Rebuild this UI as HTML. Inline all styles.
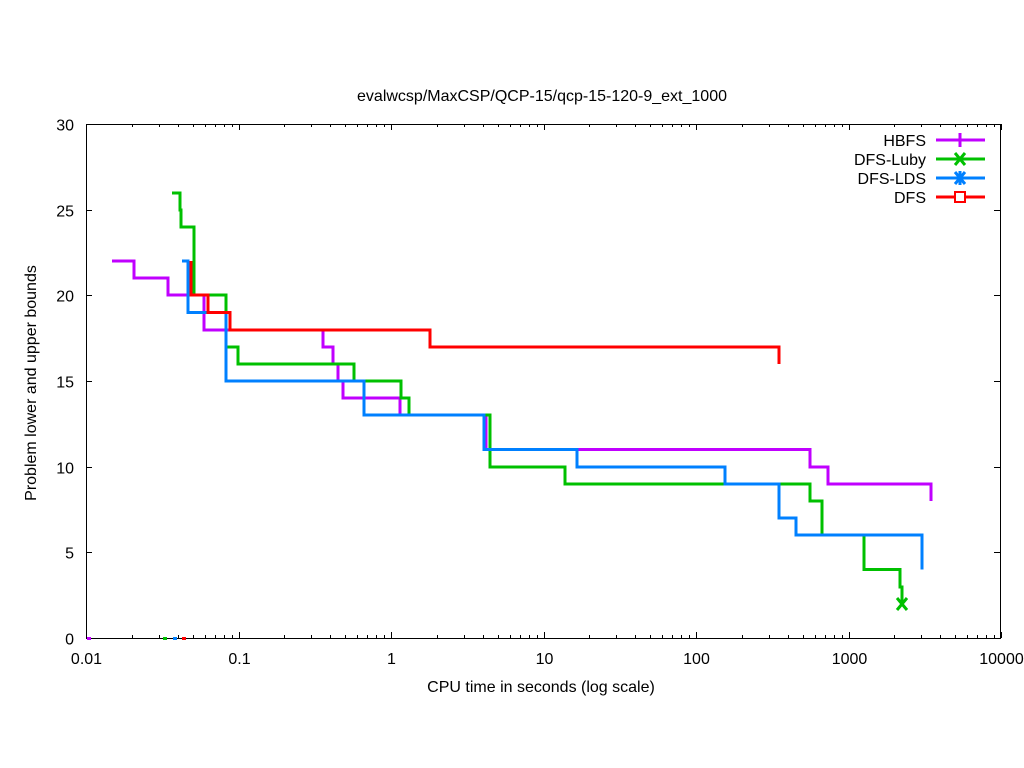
<!DOCTYPE html>
<html><head><meta charset="utf-8"><style>
html,body{margin:0;padding:0;background:#fff;}
svg{display:block;font-family:"Liberation Sans",sans-serif;}
</style></head><body>
<svg width="1024" height="768" xmlns="http://www.w3.org/2000/svg" id="s">
<rect width="1024" height="768" fill="#fff"/>
<text x="542" y="101" font-size="16" text-anchor="middle">evalwcsp/MaxCSP/QCP-15/qcp-15-120-9_ext_1000</text>
<g id="ax" stroke="#000" stroke-width="1" fill="none"></g>
<g id="lab" font-size="16" fill="#000"></g>
<text x="541" y="692" font-size="16" text-anchor="middle">CPU time in seconds (log scale)</text>
<text transform="translate(36,383) rotate(-90)" font-size="16" text-anchor="middle">Problem lower and upper bounds</text>
<g fill="none" stroke-width="3" stroke-linejoin="miter">
<polyline stroke="#c000ff" points="112,261 134,261 134,278 168,278 168,295 204,295 204,330 323,330 323,347 333,347 333,364 338,364 338,381 343,381 343,398 400,398 400,415 486,415 486,449.5 810,449.5 810,467 828,467 828,484 931,484 931,501"/>
<polyline stroke="#00c000" points="172,193 180,193 180,210 181,210 181,227 194,227 194,295 226,295 226,347 238,347 238,364 354,364 354,381 401,381 401,398 409,398 409,415 490,415 490,467 565,467 565,484 810,484 810,501 822,501 822,535 864,535 864,569.5 900,569.5 900,587 902,587 902,604"/>
<polyline stroke="#0080ff" points="182,261 188,261 188,312.5 226,312.5 226,381 364,381 364,415 484,415 484,449.5 577,449.5 577,467 725,467 725,484 779,484 779,518 796,518 796,535 922,535 922,569.5"/>
<polyline stroke="#ff0000" points="191,261 191,295 208,295 208,312.5 230,312.5 230,330 430,330 430,347 779,347 779,364"/>
</g>
<path d="M897,598 l10,12 M907,598 l-10,12" stroke="#00c000" stroke-width="3"/>
<rect x="87" y="637" width="4" height="3" fill="#c000ff"/>
<rect x="163" y="637" width="4" height="3" fill="#00c000"/>
<rect x="173" y="637" width="4" height="3" fill="#0080ff"/>
<rect x="182" y="637" width="4" height="3" fill="#ff0000"/>
<g font-size="16" text-anchor="end">
<text x="926" y="146">HBFS</text>
<text x="926" y="165">DFS-Luby</text>
<text x="926" y="184">DFS-LDS</text>
<text x="926" y="203">DFS</text>
</g>
<g stroke-width="3" fill="none">
<path d="M936,140h49M960,133v14" stroke="#c000ff"/>
<path d="M936,159h49M955,153l10,12M965,153l-10,12" stroke="#00c000"/>
<path d="M936,178h49M955,172l10,12M965,172l-10,12M960,171v14" stroke="#0080ff"/>
<path d="M936,197h49" stroke="#ff0000"/>
<rect x="955" y="192" width="10" height="10" fill="#fff" stroke="#ff0000" stroke-width="2"/>
</g>
</svg>
<script>
var ax=document.getElementById('ax'),lab=document.getElementById('lab'),NS='http://www.w3.org/2000/svg';
function L(d){var p=document.createElementNS(NS,'path');p.setAttribute('d',d);ax.appendChild(p);}
function T(x,y,t,a){var e=document.createElementNS(NS,'text');e.setAttribute('x',x);e.setAttribute('y',y);e.setAttribute('text-anchor',a);e.textContent=t;lab.appendChild(e);}
L('M86.5,124.5H1000.5V638.5H86.5Z');
var X0=86,D=152.5;
var xl=['0.01','0.1','1','10','100','1000','10000'];
for(var i=0;i<=6;i++){var x=Math.round(X0+i*D)+0.5;L('M'+x+',638v-6M'+x+',124v6');T(x,664,xl[i],'middle');
 if(i<6)for(var k=2;k<10;k++){var xm=Math.round(X0+(i+Math.log10(k))*D)+0.5;L('M'+xm+',638v-3M'+xm+',124v3');}}
for(var v=0;v<=30;v+=5){var y=Math.round(638-v*514/30)+0.5;L('M86,'+y+'h6M1000,'+y+'h-6');T(74,y+6,String(v),'end');}
</script>
</body></html>
